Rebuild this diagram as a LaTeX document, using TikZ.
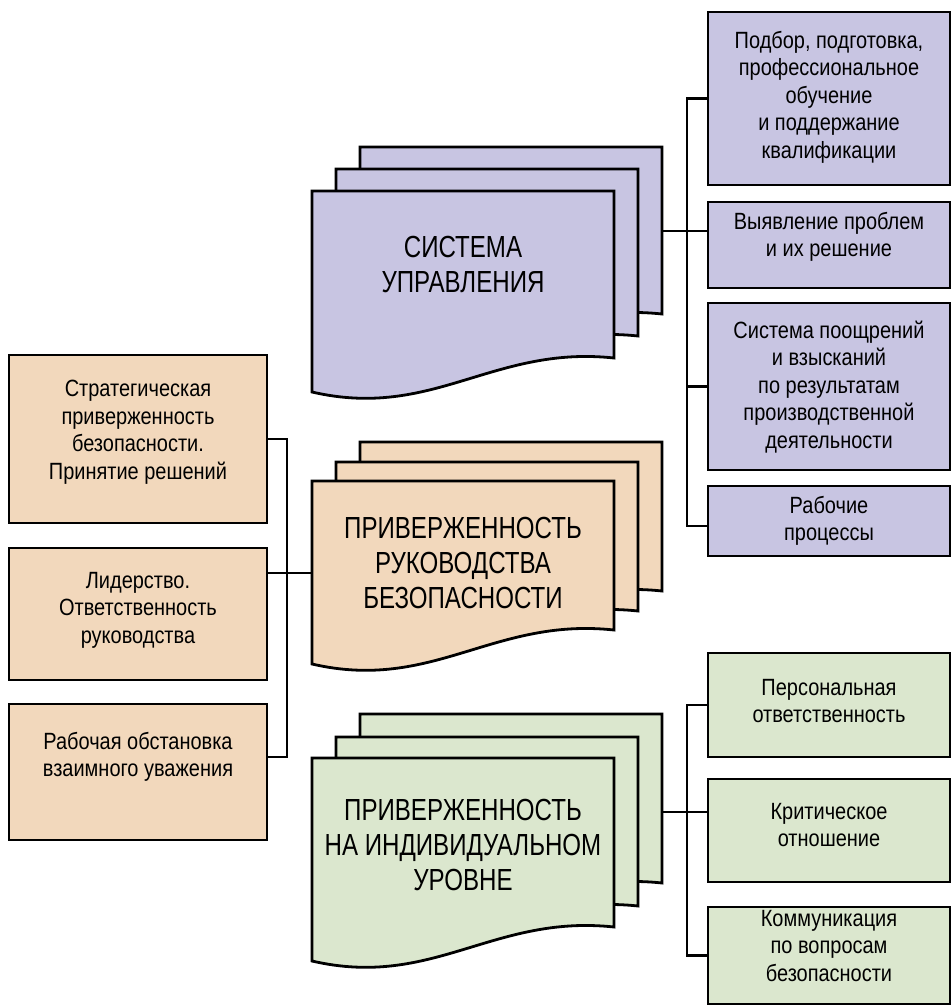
\documentclass[tikz,border=0pt]{standalone}
\usepackage{fontspec}
\setmainfont{Liberation Sans}[FakeStretch=0.85]
\newfontfamily\titlefont{Liberation Sans}[FakeStretch=0.79]
\usetikzlibrary{calc}
\definecolor{pur}{RGB}{200,197,226}
\definecolor{ora}{RGB}{242,216,188}
\definecolor{grn}{RGB}{219,231,206}
\tikzset{
  outline/.style={draw=black, line width=2.8pt, line join=miter},
  box/.style={outline, inner sep=0pt},
  lbox/.style={box, fill=ora, minimum width=258pt},
  rbox/.style={box, minimum width=242pt},
  txt/.style={align=center, inner sep=0pt, font=\fontsize{23.5}{27.5}\selectfont, text=black},
  ttl/.style={align=center, inner sep=0pt, font=\titlefont\fontsize{30.5}{35}\selectfont, text=black},
  conn/.style={draw=black, line width=2.6pt, line join=miter},
}
\newcommand\docsheet[4]{%
  \draw[outline, fill=#4, shift={(#1,#2)}]
    (0,0) -- (302,0) -- (302,#3)
    .. controls (181,{#3-13}) and (121,{#3+62}) .. (0,{#3+34}) -- cycle;}
\begin{document}
\begin{tikzpicture}[x=1pt,y=-1pt]
\useasboundingbox (0,0) rectangle (952,1007);
\coordinate (lbus) at (287,0);
\coordinate (rbus) at (687,0);

% ---------- stacks ----------
\docsheet{360}{147}{167}{pur}
\docsheet{336}{169}{167}{pur}
\docsheet{312}{191}{167}{pur}
\node[ttl] (sys) at (463,264) {СИСТЕМА\\УПРАВЛЕНИЯ};
\coordinate (sysR) at (663,231);

\docsheet{360}{442}{149}{ora}
\docsheet{336}{462}{149}{ora}
\docsheet{312}{481}{149}{ora}
\node[ttl] (lead) at (463,563) {ПРИВЕРЖЕННОСТЬ\\РУКОВОДСТВА\\БЕЗОПАСНОСТИ};
\coordinate (leadL) at (312,573);

\docsheet{360}{714}{169}{grn}
\docsheet{336}{737}{169}{grn}
\docsheet{312}{758}{169}{grn}
\node[ttl] (ind) at (463,845) {ПРИВЕРЖЕННОСТЬ\\НА ИНДИВИДУАЛЬНОМ\\УРОВНЕ};
\coordinate (indR) at (663,812);

% ---------- left boxes ----------
\node[lbox, minimum height=168pt] (O1) at (138,439) {};
\node[lbox, minimum height=132pt] (O2) at (138,614) {};
\node[lbox, minimum height=136pt] (O3) at (138,772) {};
\node[txt] (O1t) at (138,432) {Стратегическая\\приверженность\\безопасности.\\Принятие решений};
\node[txt] (O2t) at (138,610) {Лидерство.\\Ответственность\\руководства};
\node[txt] (O3t) at (138,757) {Рабочая обстановка\\взаимного уважения};
\coordinate (O2c) at (267,573);
\coordinate (O3c) at (267,757);

% ---------- right purple boxes ----------
\node[rbox, fill=pur, minimum height=173pt] (P1) at (829,98.5) {};
\node[rbox, fill=pur, minimum height=86pt] (P2) at (829,245) {};
\node[rbox, fill=pur, minimum height=167pt] (P3) at (829,386.5) {};
\node[rbox, fill=pur, minimum height=70pt] (P4) at (829,521) {};
\node[txt] (P1t) at (829,97) {Подбор, подготовка,\\профессиональное\\обучение\\и поддержание\\квалификации};
\node[txt] (P2t) at (829,237) {Выявление проблем\\и их решение};
\node[txt] (P3t) at (829,387) {Система поощрений\\и взысканий\\по результатам\\производственной\\деятельности};
\node[txt] (P4t) at (829,521) {Рабочие\\процессы};
\coordinate (P4c) at (708,526);

% ---------- right green boxes ----------
\node[rbox, fill=grn, minimum height=104pt] (G1) at (829,705) {};
\node[rbox, fill=grn, minimum height=103pt] (G2) at (829,830.5) {};
\node[rbox, fill=grn, minimum height=97pt] (G3) at (829,955.5) {};
\node[txt] (G1t) at (829,701) {Персональная\\ответственность};
\node[txt] (G2t) at (829,825) {Критическое\\отношение};
\node[txt] (G3t) at (829,946) {Коммуникация\\по вопросам\\безопасности};

% ---------- connectors ----------
\draw[conn] (O1.east) -- (O1.east -| lbus) -- (lbus |- O3c) -- (O3c);
\draw[conn] (O2c) -- (leadL);

\draw[conn] (P1.west) -- (P1.west -| rbus) -- (rbus |- P4c) -- (P4c);
\draw[conn] (sysR) -- (sysR -| P2.west);
\draw[conn] (P3.west) -- (P3.west -| rbus);

\draw[conn] (G1.west) -- (G1.west -| rbus) -- (rbus |- G3.west) -- (G3.west);
\draw[conn] (indR) -- (indR -| G2.west);
\end{tikzpicture}
\end{document}
